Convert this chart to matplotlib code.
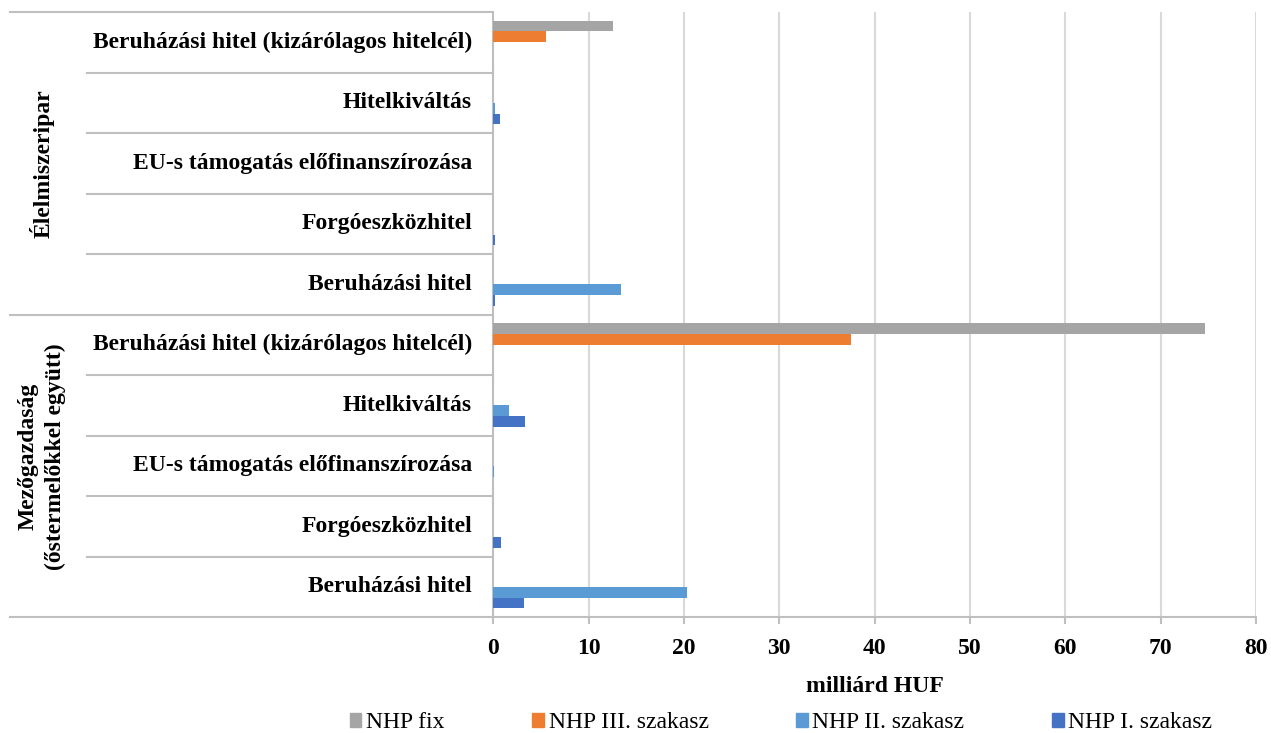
import matplotlib.pyplot as plt
import matplotlib.transforms as mtransforms
from matplotlib.patches import Patch
import numpy as np

plt.rcParams['font.family'] = ['Liberation Serif', 'DejaVu Serif']

# categories from bottom to top
kategoriak = ['Beruházási hitel', 'Forgóeszközhitel', 'EU-s támogatás előfinanszírozása',
              'Hitelkiváltás', 'Beruházási hitel (kizárólagos hitelcél)'] * 2
csoportok = ['Mezőgazdaság\n(őstermelőkkel együtt)', 'Élelmiszeripar']

nhp_1 = [3.2, 0.8, 0.0, 3.35, 0.0, 0.2, 0.15, 0.0, 0.7, 0.0]
nhp_2 = [20.3, 0.0, 0.1, 1.6, 0.0, 13.4, 0.0, 0.0, 0.2, 0.0]
nhp_3 = [0.0, 0.0, 0.0, 0.0, 37.5, 0.0, 0.0, 0.0, 0.0, 5.5]
nhp_fix = [0.0, 0.0, 0.0, 0.0, 74.7, 0.0, 0.0, 0.0, 0.0, 12.5]

sorozatok = [('NHP I. szakasz', nhp_1, '#4472c4'),
             ('NHP II. szakasz', nhp_2, '#5b9bd5'),
             ('NHP III. szakasz', nhp_3, '#ed7d31'),
             ('NHP fix', nhp_fix, '#a5a5a5')]

W, H = 1271, 733
fig = plt.figure(figsize=(W / 100, H / 100), dpi=100)
ax = fig.add_axes([493.4 / W, 1 - 617 / H, (1255.8 - 493.4) / W, (617 - 12) / H])

y = np.arange(len(kategoriak))
h = 0.178
for i, (nev, ertek, szin) in enumerate(sorozatok):
    ax.barh(y + (i - 1.5) * h, ertek, height=h, color=szin, label=nev, zorder=3)

ax.set_xlim(0, 80)
ax.set_ylim(-0.5, len(kategoriak) - 0.5)
ax.set_xticks(np.arange(0, 81, 10))
ax.set_yticks([])
ax.grid(axis='x', color='#d9d9d9', lw=1.5, zorder=0)
for s in ['top', 'right']:
    ax.spines[s].set_visible(False)
for s in ['left', 'bottom']:
    ax.spines[s].set_color('#bfbfbf')
    ax.spines[s].set_linewidth(1.5)
ax.tick_params(axis='x', length=5, width=1.5, color='#bfbfbf', pad=10,
               labelsize=17)
for t in ax.get_xticklabels():
    t.set_fontweight('bold')
ax.set_xlabel('milliárd HUF', fontsize=17, fontweight='bold', labelpad=12)

# category table on the left
tr = mtransforms.blended_transform_factory(fig.transFigure, ax.transData)
for i, k in enumerate(kategoriak):
    ax.text(472 / W, i, k, transform=tr, ha='right', va='center',
            fontsize=17, fontweight='bold')
for b in np.arange(-0.5, len(kategoriak), 1.0):
    x0 = 10 / W if b in (-0.5, 4.5, 9.5) else 87 / W
    ax.plot([x0, 493.4 / W], [b, b], transform=tr, color='#bfbfbf', lw=1.5,
            clip_on=False, zorder=1)
for g, nev in enumerate(csoportok):
    ax.text(42 / W, g * 5 + 2 + (0.15 if g == 0 else 0), nev, transform=tr,
            ha='center', va='center', rotation=90, fontsize=17,
            fontweight='bold', linespacing=1.35)

# legend
handles = [Patch(color=c, label=n) for n, _, c in sorozatok[::-1]]
fig.legend(handles=handles, loc='center', bbox_to_anchor=(781 / W, 1 - 723 / H),
           ncol=4, frameon=False, fontsize=17, handlelength=0.5,
           handleheight=0.5, handletextpad=0.2, columnspacing=3.7,
           borderpad=0.2)

fig.savefig('out.png', dpi=100)
